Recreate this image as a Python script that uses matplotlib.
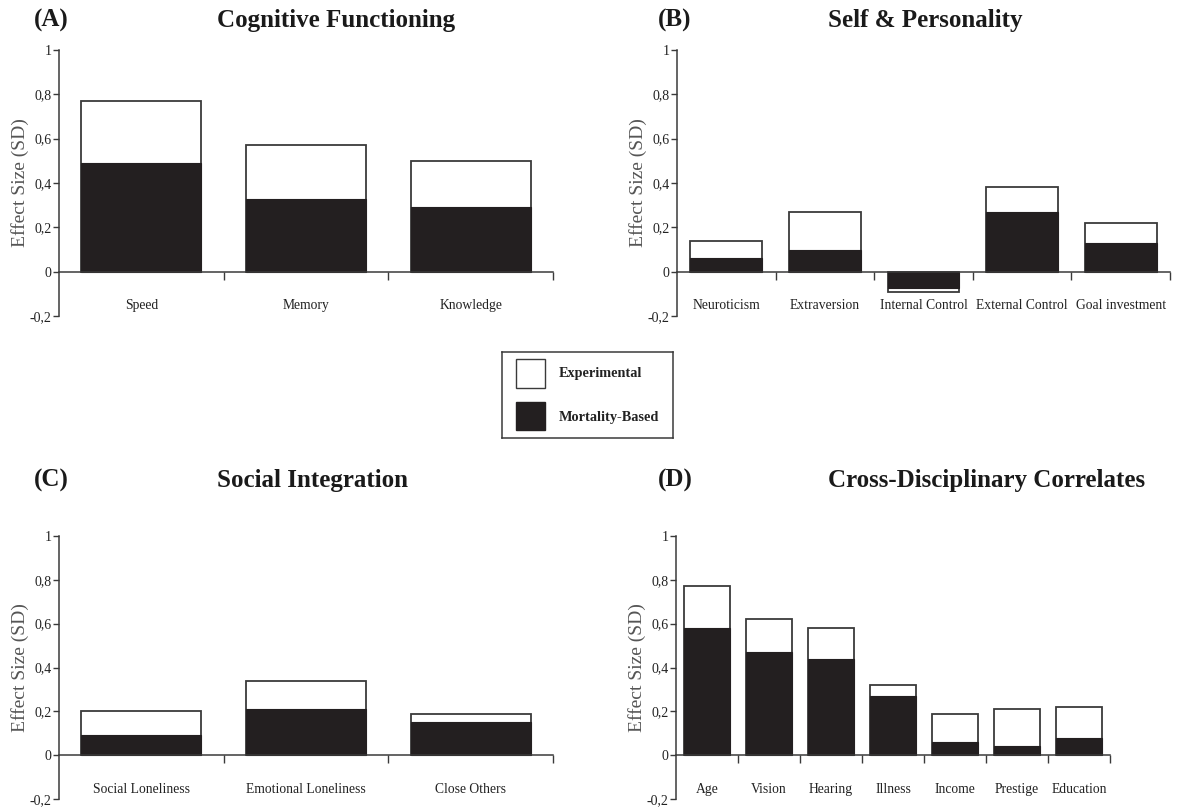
import matplotlib
matplotlib.use("Agg")
import matplotlib.pyplot as plt
from matplotlib.patches import Rectangle
import numpy as np

plt.rcParams['font.family'] = ['Liberation Serif', 'DejaVu Serif']

# ---------------- data ----------------
cats_a = ["Speed", "Memory", "Knowledge"]
exp_a = [0.77, 0.57, 0.50]
mort_a = [0.49, 0.33, 0.29]

cats_b = ["Neuroticism", "Extraversion", "Internal Control", "External Control", "Goal investment"]
exp_b = [0.14, 0.27, -0.09, 0.38, 0.22]
mort_b = [0.06, 0.10, -0.075, 0.27, 0.13]

cats_c = ["Social Loneliness", "Emotional Loneliness", "Close Others"]
exp_c = [0.20, 0.34, 0.19]
mort_c = [0.09, 0.21, 0.15]

cats_d = ["Age", "Vision", "Hearing", "Illness", "Income", "Prestige", "Education"]
exp_d = [0.77, 0.62, 0.58, 0.32, 0.19, 0.21, 0.22]
mort_d = [0.58, 0.47, 0.44, 0.27, 0.06, 0.04, 0.08]

yticks = [-0.2, 0, 0.2, 0.4, 0.6, 0.8, 1.0]
ytick_labels = ["-0,2", "0", "0,2", "0,4", "0,6", "0,8", "1"]

panel_letters = ["(A)", "(B)", "(C)", "(D)"]
panel_titles = ["Cognitive Functioning", "Self & Personality", "Social Integration",
                "Cross-Disciplinary Correlates"]
legend_labels = ["Experimental", "Mortality-Based"]
ylabel = "Effect Size (SD)"

# ---------------- style ----------------
W, H = 1178, 807
BLACK = "#231f20"
LINE = "#3a3a3a"

fig = plt.figure(figsize=(W / 100, H / 100), dpi=100)


def px_rect(x0, x1, ytop, ybot):
    return [x0 / W, 1 - ybot / H, (x1 - x0) / W, (ybot - ytop) / H]


def panel(rect, cats, exp, mort):
    ax = fig.add_axes(rect)
    n = len(cats)
    x = np.arange(n) + 0.5
    ax.bar(x, exp, width=0.727, color="white", edgecolor=LINE, linewidth=1.3, zorder=2)
    ax.bar(x, mort, width=0.727, color=BLACK, edgecolor=BLACK, linewidth=0.8, zorder=3)
    ax.set_xlim(0, n)
    ax.set_ylim(-0.2, 1.0)
    ax.set_yticks(yticks)
    ax.set_yticklabels(ytick_labels)
    for s in ["top", "right"]:
        ax.spines[s].set_visible(False)
    ax.spines["bottom"].set_position(("data", 0))
    ax.spines["bottom"].set_zorder(4)
    for s in ["left", "bottom"]:
        ax.spines[s].set_color(LINE)
        ax.spines[s].set_linewidth(1.1)
    ax.set_xticks(np.arange(1, n + 1))
    ax.set_xticklabels([])
    ax.set_xticks(x, minor=True)
    ax.set_xticklabels(cats, minor=True)
    ax.tick_params(axis="x", which="major", direction="out", length=6, width=1.0, color=LINE)
    ax.tick_params(axis="x", which="minor", length=0, pad=20, labelsize=9.8, labelcolor="#222222")
    ax.tick_params(axis="y", direction="out", length=4.5, width=1.0, color=LINE,
                   labelsize=10, labelcolor="#222222", pad=1)
    ax.set_ylabel(ylabel, fontsize=14, color="#555555")
    wpx = rect[2] * W
    ax.yaxis.set_label_coords(-30 / wpx, 0.5)
    ax.patch.set_alpha(0)
    return ax


ax_a = panel(px_rect(59, 553, 50, 316), cats_a, exp_a, mort_a)
ax_b = panel(px_rect(677, 1170, 50, 316), cats_b, exp_b, mort_b)
ax_c = panel(px_rect(59, 553, 536, 799), cats_c, exp_c, mort_c)
ax_d = panel(px_rect(676, 1110, 536, 799), cats_d, exp_d, mort_d)

# titles
title_pos = [(34, 217, 20), (658, 828, 20), (34, 217, 480), (658, 828, 480)]
for (lx, tx, ty), letter, title in zip(title_pos, panel_letters, panel_titles):
    fig.text(lx / W, 1 - ty / H, letter, fontsize=18, fontweight="bold",
             ha="left", va="center", color="#1a1a1a")
    fig.text(tx / W, 1 - ty / H, title, fontsize=18, fontweight="bold",
             ha="left", va="center", color="#1a1a1a")

# legend box
lg = fig.add_axes(px_rect(502, 673, 352, 438))
lg.set_xlim(0, 171)
lg.set_ylim(86, 0)
lg.set_xticks([])
lg.set_yticks([])
for s in lg.spines.values():
    s.set_color(LINE)
    s.set_linewidth(1.1)
lg.add_patch(Rectangle((14, 7), 29, 29, facecolor="white", edgecolor=LINE, linewidth=1.0))
lg.add_patch(Rectangle((14, 50), 29, 28, facecolor=BLACK, edgecolor=BLACK, linewidth=1.0))
lg.text(57, 21, legend_labels[0], fontsize=10.3, fontweight="bold", va="center", ha="left",
        color="#222222")
lg.text(57, 65, legend_labels[1], fontsize=10.3, fontweight="bold", va="center", ha="left",
        color="#222222")

fig.savefig("out.png", dpi=100)
